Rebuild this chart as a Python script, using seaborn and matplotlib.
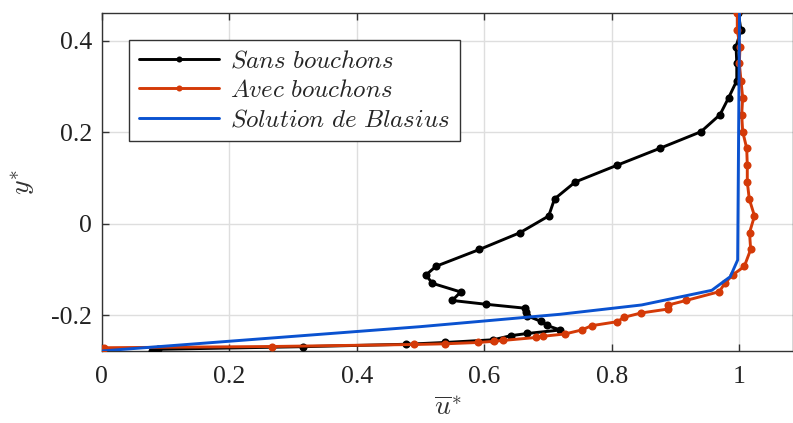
import numpy as np
import pandas as pd
import matplotlib
matplotlib.use("Agg")
import matplotlib.pyplot as plt
import seaborn as sns

# Profiles (u* along x, y* along y)
sans_u = [0.9986, 1.0028, 0.9951, 0.9962, 0.9962, 0.9835, 0.9699, 0.9401, 0.8758, 0.8083,
          0.7429, 0.7103, 0.7012, 0.6562, 0.5926, 0.5244, 0.5087, 0.5186, 0.5631, 0.5500,
          0.6028, 0.6635, 0.6656, 0.6679, 0.6896, 0.6985, 0.7194, 0.6679, 0.6420, 0.6141,
          0.5388, 0.4778, 0.3153, 0.0888, 0.0797]
sans_y = [0.4605, 0.4240, 0.3875, 0.3512, 0.3132, 0.2761, 0.2389, 0.2017, 0.1655, 0.1283,
          0.0918, 0.0546, 0.0175, -0.0190, -0.0557, -0.0925, -0.1115, -0.1296, -0.1486, -0.1672,
          -0.1755, -0.1840, -0.1934, -0.2011, -0.2131, -0.2219, -0.2317, -0.2393, -0.2441, -0.2531,
          -0.2590, -0.2629, -0.2682, -0.2739, -0.2782]

avec_u = [0.9970, 0.9970, 1.0013, 1.0002, 1.0028, 1.0055, 1.0039, 1.0055, 1.0118, 1.0127,
          1.0127, 1.0158, 1.0240, 1.0162, 1.0180, 1.0080, 0.9903, 0.9777, 0.9688, 0.9166,
          0.8891, 0.8891, 0.8463, 0.8193, 0.8091, 0.7686, 0.7529, 0.7267, 0.6918, 0.6813,
          0.6290, 0.6154, 0.5907, 0.5385, 0.4907, 0.2667, 0.0036]
avec_y = [0.4605, 0.4240, 0.3875, 0.3512, 0.3132, 0.2761, 0.2389, 0.2017, 0.1655, 0.1283,
          0.0918, 0.0546, 0.0175, -0.0190, -0.0557, -0.0928, -0.1109, -0.1290, -0.1480, -0.1672,
          -0.1770, -0.1858, -0.1945, -0.2039, -0.2135, -0.2223, -0.2317, -0.2404, -0.2455, -0.2481,
          -0.2546, -0.2564, -0.2590, -0.2619, -0.2634, -0.2678, -0.2705]

blasius_u = [0.0, 0.4993, 0.7189, 0.8470, 0.9570, 0.9860, 0.9976, 1.0005]
blasius_y = [-0.2776, -0.2245, -0.1974, -0.1770, -0.1450, -0.1152, -0.0787, 0.4605]

BLACK = "black"
RED = "#D43A08"
BLUE = "#0A52D0"

sns.set_style("whitegrid")
plt.rcParams["font.family"] = ["Liberation Serif", "DejaVu Serif"]
plt.rcParams["mathtext.fontset"] = "cm"

fig = plt.figure(figsize=(7.93, 4.23), dpi=100)
ax = fig.add_axes([0.1282, 0.1709, 0.8718, 0.7977])

sans = pd.DataFrame({"u": sans_u, "y": sans_y})
avec = pd.DataFrame({"u": avec_u, "y": avec_y})
blas = pd.DataFrame({"u": blasius_u, "y": blasius_y})

sns.lineplot(data=sans, x="u", y="y", sort=False, estimator=None, ax=ax, color=BLACK,
             lw=2.1, marker="o", markersize=5.8, markeredgewidth=0,
             label=r"$\mathit{Sans\ bouchons}$", zorder=3)
sns.lineplot(data=avec, x="u", y="y", sort=False, estimator=None, ax=ax, color=RED,
             lw=2.1, marker="o", markersize=5.8, markeredgewidth=0,
             label=r"$\mathit{Avec\ bouchons}$", zorder=4)
sns.lineplot(data=blas, x="u", y="y", sort=False, estimator=None, ax=ax, color=BLUE,
             lw=2.1, label=r"$\mathit{Solution\ de\ Blasius}$", zorder=5)

ax.set_xlim(0, 1.0844)
ax.set_ylim(-0.277, 0.4605)
ax.set_xticks([0, 0.2, 0.4, 0.6, 0.8, 1.0])
ax.set_xticklabels(["0", "0.2", "0.4", "0.6", "0.8", "1"])
ax.set_yticks([-0.2, 0, 0.2, 0.4])
ax.set_yticklabels(["-0.2", "0", "0.2", "0.4"])

ax.grid(True, color="#DEDEDE", lw=1)
for side in ["left", "bottom", "top", "right"]:
    ax.spines[side].set_color("#333333")
    ax.spines[side].set_linewidth(1)
ax.tick_params(axis="both", direction="in", length=5, width=1, color="#333333",
               labelsize=18.5, labelcolor="#222222", top=True, left=True, bottom=True)
ax.tick_params(axis="x", pad=11)
ax.tick_params(axis="y", pad=7)

ax.set_xlabel(r"$\overline{u}^{*}$", fontsize=20, color="#333333", labelpad=6)
ax.set_ylabel(r"$y^{*}$", fontsize=20, color="#333333", labelpad=10)

leg = ax.legend(loc="upper left", bbox_to_anchor=(0.0395, 0.921), borderaxespad=0,
                fontsize=18, frameon=True, fancybox=False, edgecolor="#333333",
                framealpha=1, handlelength=3.2, borderpad=0.4, labelspacing=0.28,
                handletextpad=0.45, markerscale=0.75)
leg.get_frame().set_linewidth(1)

fig.savefig("out.png", dpi=100)
